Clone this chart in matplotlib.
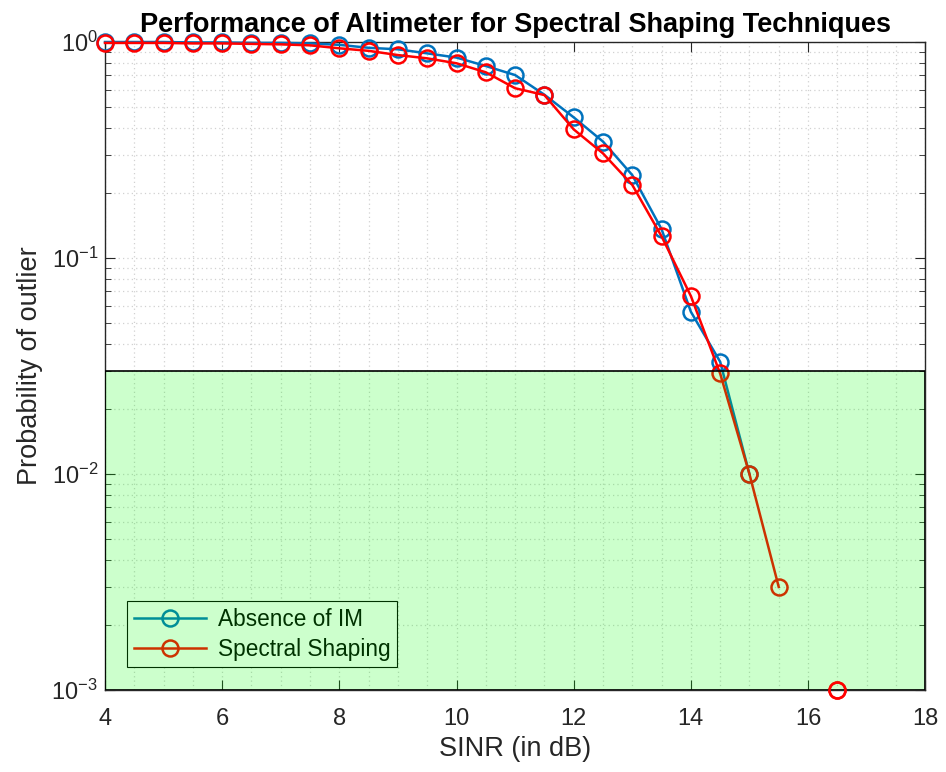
import numpy as np
import matplotlib
matplotlib.use("Agg")
import matplotlib.pyplot as plt
from matplotlib.ticker import LogLocator, MultipleLocator, NullFormatter

plt.rcParams['font.family'] = ['Liberation Sans', 'DejaVu Sans']
plt.rcParams['mathtext.fontset'] = 'custom'
plt.rcParams['mathtext.rm'] = 'Liberation Sans'
plt.rcParams['mathtext.it'] = 'Liberation Sans'

sinr_blue = [4, 4.5, 5, 5.5, 6, 6.5, 7, 7.5, 8, 8.5, 9, 9.5, 10, 10.5, 11, 11.5,
             12, 12.5, 13, 13.5, 14, 14.5, 15]
p_absence = [1.0, 1.0, 1.0, 0.995, 0.995, 0.99, 0.99, 0.985, 0.97, 0.94, 0.925, 0.886,
             0.847, 0.774, 0.703, 0.57, 0.448, 0.346, 0.242, 0.136, 0.0564, 0.0331, 0.01]

sinr_red = [4, 4.5, 5, 5.5, 6, 6.5, 7, 7.5, 8, 8.5, 9, 9.5, 10, 10.5, 11, 11.5,
            12, 12.5, 13, 13.5, 14, 14.5, 15, 15.5, 16, 16.5]
p_shaping = [0.99, 0.99, 0.99, 0.985, 0.985, 0.98, 0.975, 0.965, 0.935, 0.91, 0.87, 0.84,
             0.797, 0.724, 0.611, 0.568, 0.394, 0.305, 0.218, 0.126, 0.0667, 0.0292,
             0.01, 0.003, np.nan, 0.001]

threshold = 0.03
xlim = (4, 18)
ylim = (1e-3, 1)

fig = plt.figure(figsize=(9.46, 7.72), dpi=100)
ax = fig.add_axes([0.111, 0.1062, 0.867, 0.8394])

axcol = (0.15, 0.15, 0.15)
ax.plot(sinr_blue, p_absence, color='#0072BD', lw=1.8, marker='o', ms=11.5,
        mfc='none', mew=1.8, clip_on=False, zorder=3, label='Absence of IM')
ax.plot(sinr_red, p_shaping, color='#FF0000', lw=1.8, marker='o', ms=11.5,
        mfc='none', mew=1.8, clip_on=False, zorder=4, label='Spectral Shaping')

ax.set_yscale('log')
ax.set_xlim(*xlim)
ax.set_ylim(*ylim)

ax.axhspan(ylim[0], threshold, facecolor=(0, 1, 0, 0.2), edgecolor='k', lw=1.2, zorder=6)
# last red point drawn above the shaded region
ax.plot(sinr_red[-1:], p_shaping[-1:], color='#FF0000', ls='none', marker='o', ms=11.5,
        mfc='none', mew=1.8, clip_on=False, zorder=7)

ax.xaxis.set_major_locator(MultipleLocator(2))
ax.xaxis.set_minor_locator(MultipleLocator(0.5))
ax.yaxis.set_major_locator(LogLocator(base=10))
ax.yaxis.set_minor_locator(LogLocator(base=10, subs=np.arange(2, 10)))
ax.yaxis.set_minor_formatter(NullFormatter())

ax.grid(which='major', color=(0.82, 0.82, 0.82), ls=(0, (1, 2.5)), lw=0.9)
ax.grid(which='minor', color=(0.82, 0.82, 0.82), ls=(0, (1, 2.5)), lw=0.9)
ax.set_axisbelow(True)

ax.tick_params(which='both', direction='in', top=True, right=True, colors=axcol,
               labelsize=17, labelcolor=(0.15, 0.15, 0.15))
ax.tick_params(axis='x', which='minor', length=0)
ax.tick_params(axis='x', which='major', pad=13)
ax.tick_params(axis='y', which='major', pad=5)
ax.tick_params(which='major', length=7)
ax.tick_params(axis='y', which='minor', length=4)
for s in ax.spines.values():
    s.set_color(axcol)
    s.set_linewidth(1.0)

ax.set_xlabel('SINR (in dB)', fontsize=19.5, color=axcol, labelpad=4)
ax.set_ylabel('Probability of outlier', fontsize=19.5, color=axcol, labelpad=6)
ax.set_title('Performance of Altimeter for Spectral Shaping Techniques',
             fontsize=19.5, fontweight='bold', pad=7)

leg = ax.legend(loc='lower left', bbox_to_anchor=(0.027, 0.035), borderaxespad=0,
                fancybox=False, fontsize=16.3, handlelength=3.2, framealpha=1,
                edgecolor='k', borderpad=0.3, labelspacing=0.3, handletextpad=0.5)
leg.get_frame().set_linewidth(0.8)

fig.savefig('out.png', dpi=100)
